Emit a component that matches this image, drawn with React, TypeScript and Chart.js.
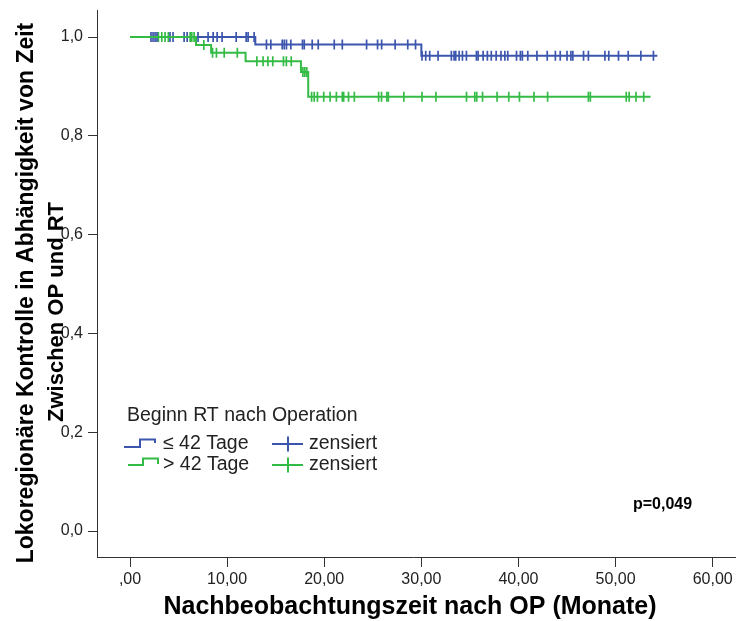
import React, { useEffect, useRef } from 'react';
import { Chart, registerables } from 'chart.js';

Chart.register(...registerables);

// Kaplan-Meier steps (time in months, survival proportion)
const blueStepTimes = [2.16, 12.9, 30.0, 54.3];
const blueStepValues = [1, 0.985, 0.962, 0.962];
const greenStepTimes = [0, 6.8, 8.35, 11.9, 17.6, 18.35, 53.6];
const greenStepValues = [1, 0.984, 0.968, 0.951, 0.929, 0.879, 0.879];

// censored observations (months)
const blueCensored = [
  2.16, 2.37, 2.58, 2.78, 4.12, 4.43, 5.57, 5.88, 7.0, 8.04, 8.56, 8.97, 9.48, 10.93, 11.96, 12.16, 12.78,
  14.05, 14.5, 15.67, 15.88, 16.11, 16.56, 17.76, 17.94, 18.76, 19.38, 21.03, 21.86, 24.36, 25.49, 25.91,
  27.3, 28.6, 29.4, 30.07, 30.45, 30.86, 31.72, 33.09, 33.37, 33.54, 33.89, 34.23, 34.64, 35.67, 35.84,
  36.36, 36.8, 37.2, 37.7, 38.2, 38.6, 38.9, 39.8, 40.2, 40.4, 40.96, 41.9, 42.96, 43.8, 44.3, 45.0, 45.4,
  45.6, 46.7, 47.2, 48.9, 49.3, 50.3, 51.3, 52.6, 53.9,
];
const greenCensored = [
  2.92, 3.27, 3.61, 3.95, 6.19, 6.36, 6.6, 7.6, 8.5, 8.9, 9.7, 11.05, 13.06, 13.7, 14.2, 14.7, 15.8, 16.1,
  16.6, 17.8, 18.0, 18.2, 18.7, 18.97, 19.3, 19.95, 20.6, 21.25, 21.86, 22.0, 22.5, 23.1, 25.6, 25.9, 26.45,
  26.6, 28.2, 30.07, 31.5, 34.65, 35.5, 35.7, 36.3, 37.8, 39.0, 40.1, 41.6, 43.0, 47.2, 47.4, 51.1, 51.4,
  52.1, 52.9,
];

const xTicks = [0, 10, 20, 30, 40, 50, 60];
const xTickLabels = [',00', '10,00', '20,00', '30,00', '40,00', '50,00', '60,00'];
const yTicks = [0, 0.2, 0.4, 0.6, 0.8, 1.0];
const yTickLabels = ['0,0', '0,2', '0,4', '0,6', '0,8', '1,0'];

const xTitle = 'Nachbeobachtungszeit nach OP (Monate)';
const yTitleLines = ['Lokoregionäre Kontrolle in Abhängigkeit von Zeit', 'Zwischen OP und RT'];
const legendTitle = 'Beginn RT nach Operation';
const groupLabels = ['≤ 42 Tage', '> 42 Tage'];
const censorLabel = 'zensiert';
const pValueText = 'p=0,049';

const BLUE = '#3d56ad';
const GREEN = '#34bb46';
const AXIS = '#333';
const FONT = '"Liberation Sans", Arial, sans-serif';

function survivalAt(times: number[], values: number[], t: number): number {
  let v = values[0];
  for (let i = 0; i < times.length; i++) {
    if (times[i] <= t) v = values[i];
  }
  return v;
}

const annotationPlugin = {
  id: 'kmAnnotations',
  afterDraw(chart: any) {
    const ctx = chart.ctx as CanvasRenderingContext2D;
    const area = chart.chartArea;
    ctx.save();
    // extend the x axis baseline to the canvas edge
    ctx.strokeStyle = AXIS;
    ctx.lineWidth = 1;
    ctx.beginPath();
    ctx.moveTo(area.right, Math.round(area.bottom) + 0.5);
    ctx.lineTo(chart.width, Math.round(area.bottom) + 0.5);
    ctx.stroke();

    // y-axis title (two rotated lines)
    ctx.fillStyle = '#000';
    ctx.textAlign = 'center';
    ctx.textBaseline = 'middle';
    const yTitlePos = [
      { x: 27, y: 293, size: 23 },
      { x: 57, y: 312, size: 22 },
    ];
    yTitlePos.forEach((p, i) => {
      ctx.save();
      ctx.font = `bold ${p.size}px ${FONT}`;
      ctx.translate(p.x, p.y);
      ctx.rotate(-Math.PI / 2);
      ctx.fillText(yTitleLines[i], 0, 0);
      ctx.restore();
    });
    // x-axis title
    ctx.font = `bold 25px ${FONT}`;
    ctx.fillText(xTitle, 410, 607);

    // legend
    ctx.fillStyle = '#222';
    ctx.textAlign = 'left';
    ctx.font = `19.5px ${FONT}`;
    ctx.fillText(legendTitle, 127, 416);
    const rows = [444, 465];
    const colors = [BLUE, GREEN];
    ctx.lineWidth = 2;
    // step icons
    ctx.strokeStyle = BLUE;
    ctx.beginPath();
    ctx.moveTo(124, 447);
    ctx.lineTo(140, 447);
    ctx.lineTo(140, 439.5);
    ctx.lineTo(155, 439.5);
    ctx.lineTo(155, 443);
    ctx.stroke();
    ctx.strokeStyle = GREEN;
    ctx.beginPath();
    ctx.moveTo(128, 465);
    ctx.lineTo(143, 465);
    ctx.lineTo(143, 458.5);
    ctx.lineTo(158, 458.5);
    ctx.lineTo(158, 464);
    ctx.stroke();
    rows.forEach((y, i) => {
      ctx.fillStyle = '#222';
      ctx.fillText(groupLabels[i], 163, y);
      ctx.strokeStyle = colors[i];
      ctx.beginPath();
      ctx.moveTo(272, y);
      ctx.lineTo(303, y);
      ctx.moveTo(288, y - 7.5);
      ctx.lineTo(288, y + 7.5);
      ctx.stroke();
      ctx.fillText(censorLabel, 309, y);
    });

    // p-value
    ctx.fillStyle = '#000';
    ctx.font = `bold 16px ${FONT}`;
    ctx.fillText(pValueText, 633, 505);
    ctx.restore();
  },
};

export default function App() {
  const canvasRef = useRef<HTMLCanvasElement | null>(null);

  useEffect(() => {
    if (!canvasRef.current) return;
    const blueLine = blueStepTimes.map((t, i) => ({ x: t, y: blueStepValues[i] }));
    const greenLine = greenStepTimes.map((t, i) => ({ x: t, y: greenStepValues[i] }));
    const blueMarks = blueCensored.map((t) => ({ x: t, y: survivalAt(blueStepTimes, blueStepValues, t) }));
    const greenMarks = greenCensored.map((t) => ({ x: t, y: survivalAt(greenStepTimes, greenStepValues, t) }));

    const markStyle = {
      showLine: false,
      pointStyle: 'line',
      rotation: 90,
      pointRadius: 5,
      pointBorderWidth: 1.7,
      pointHoverRadius: 5,
    };

    const chart = new Chart(canvasRef.current, {
      type: 'line',
      data: {
        datasets: [
          {
            label: groupLabels[1],
            data: greenLine,
            stepped: 'before',
            borderColor: GREEN,
            borderWidth: 2,
            pointRadius: 0,
            fill: false,
          },
          {
            label: groupLabels[0],
            data: blueLine,
            stepped: 'before',
            borderColor: BLUE,
            borderWidth: 2,
            pointRadius: 0,
            fill: false,
          },
          {
            label: censorLabel,
            data: blueMarks,
            borderColor: BLUE,
            backgroundColor: BLUE,
            ...markStyle,
          } as any,
          {
            label: censorLabel,
            data: greenMarks,
            borderColor: GREEN,
            backgroundColor: GREEN,
            ...markStyle,
          } as any,
        ],
      },
      options: {
        responsive: false,
        animation: false,
        layout: { padding: { top: 10, right: 0, left: 0, bottom: 0 } },
        plugins: {
          legend: { display: false },
          tooltip: { enabled: false },
          title: { display: false },
        },
        scales: {
          x: {
            type: 'linear',
            min: -3.4,
            max: 61.71,
            afterBuildTicks: (scale: any) => {
              scale.ticks = xTicks.map((v) => ({ value: v }));
            },
            afterFit: (scale: any) => {
              scale.height = 64;
              scale.paddingLeft = 0;
              scale.paddingRight = 0;
            },
            ticks: {
              autoSkip: false,
              maxRotation: 0,
              padding: 3,
              color: '#222',
              font: { family: FONT, size: 16 },
              callback: (value: any) => xTickLabels[xTicks.indexOf(Number(value))],
            },
            grid: { display: true, drawOnChartArea: false, drawTicks: true, tickLength: 10, color: AXIS, lineWidth: 1 },
            border: { display: true, color: AXIS, width: 1 },
          },
          y: {
            type: 'linear',
            min: -0.0526,
            max: 1.0547,
            afterBuildTicks: (scale: any) => {
              scale.ticks = yTicks.map((v) => ({ value: v }));
            },
            afterFit: (scale: any) => {
              scale.width = 97;
              scale.paddingTop = 0;
              scale.paddingBottom = 0;
            },
            ticks: {
              autoSkip: false,
              padding: 5,
              color: '#222',
              font: { family: FONT, size: 16 },
              callback: (value: any) => {
                const idx = yTicks.findIndex((v) => Math.abs(v - Number(value)) < 1e-6);
                return idx >= 0 ? yTickLabels[idx] : '';
              },
            },
            grid: { display: true, drawOnChartArea: false, drawTicks: true, tickLength: 9, color: AXIS, lineWidth: 1 },
            border: { display: true, color: AXIS, width: 1 },
          },
        },
      },
      plugins: [annotationPlugin],
    });
    return () => chart.destroy();
  }, []);

  return (
    <div style={{ position: 'fixed', left: 0, top: 0, width: 736, height: 621, background: '#fff' }}>
      <canvas ref={canvasRef} width={736} height={621} style={{ display: 'block' }} />
    </div>
  );
}
